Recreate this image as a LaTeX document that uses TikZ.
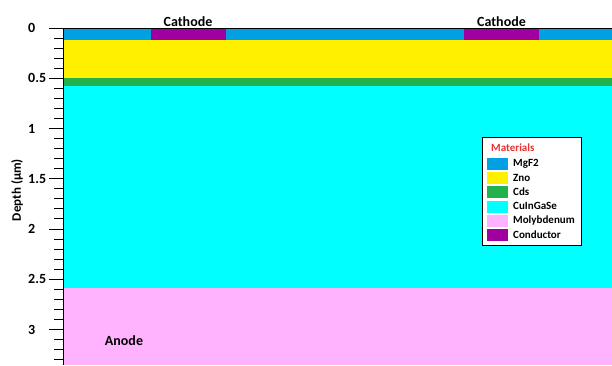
\documentclass[tikz,border=0pt]{standalone}
\usepackage{fontspec}
\setmainfont{Carlito}
\usepackage{tikz}
\usetikzlibrary{positioning}
\definecolor{mgf}{RGB}{0,160,227}
\definecolor{zno}{RGB}{255,240,0}
\definecolor{cds}{RGB}{34,177,76}
\definecolor{cigs}{RGB}{0,255,255}
\definecolor{moly}{RGB}{255,179,255}
\definecolor{cond}{RGB}{160,0,160}
\definecolor{legred}{RGB}{230,50,50}

\begin{document}
\begin{tikzpicture}[x=1pt,y=-1pt,font=\bfseries\fontsize{14}{16}\selectfont,
  cathbox/.style={fill=cond, minimum width=75pt, minimum height=12pt, inner sep=0pt},
  swatch/.style={minimum width=21pt, minimum height=12pt, inner sep=0pt},
  entry/.style={anchor=west, inner sep=0pt, font=\bfseries\fontsize{11}{13}\selectfont},
  ticklab/.style={anchor=west, inner sep=0pt}]
  \useasboundingbox (0,0) rectangle (612,365);
  % layers of the cell
  \fill[moly] (63,288) rectangle (612,365);
  \fill[cigs] (63,86) rectangle (612,288);
  \fill[cds] (63,78) rectangle (612,86);
  \fill[zno] (63,40) rectangle (612,78);
  \fill[mgf] (63,28) rectangle (612,40);
  \node[cathbox] (cath1) at (188,34) {};
  \node[cathbox] (cath2) at (501.5,34) {};
  \node[above=0pt of cath1, inner sep=1pt] (cathlab1) {Cathode};
  \node[above=0pt of cath2, inner sep=1pt] (cathlab2) {Cathode};
  \node (anode) at (124,341) {Anode};
  % axis
  \draw[line width=1pt] (49,28) -- (612,28);
  \draw[line width=1pt] (63,28) -- (63,365);
  \foreach \d in {1,...,33} {\draw[line width=1pt] (54,28+10.05*\d) -- (63,28+10.05*\d);}
  \foreach \d/\lab in {0/0,5/0.5,10/1,15/1.5,20/2,25/2.5,30/3} {
    \draw[line width=1pt] (49,28+10.05*\d) -- (63,28+10.05*\d);
    \node[ticklab] (tick\d) at (28,28+10.05*\d) {\lab};
  }
  \node[rotate=90, font=\bfseries\fontsize{13}{15}\selectfont] (depth) at (17,190) {Depth (µm)};
  % legend
  \draw[line width=0.6pt, fill=white] (482,137) rectangle (581,245);
  \node[entry, text=legred] (mattitle) at (491,148) {Materials};
  \foreach \i/\name/\col in {0/MgF2/mgf,1/Zno/zno,2/Cds/cds,3/CuInGaSe/cigs,4/Molybdenum/moly,5/Conductor/cond} {
    \node[swatch, fill=\col] (sw\i) at (497.5,164+14.2*\i) {};
    \node[entry] (lab\i) at (513,163.5+14.2*\i) {\name};
  }
\end{tikzpicture}
\end{document}
